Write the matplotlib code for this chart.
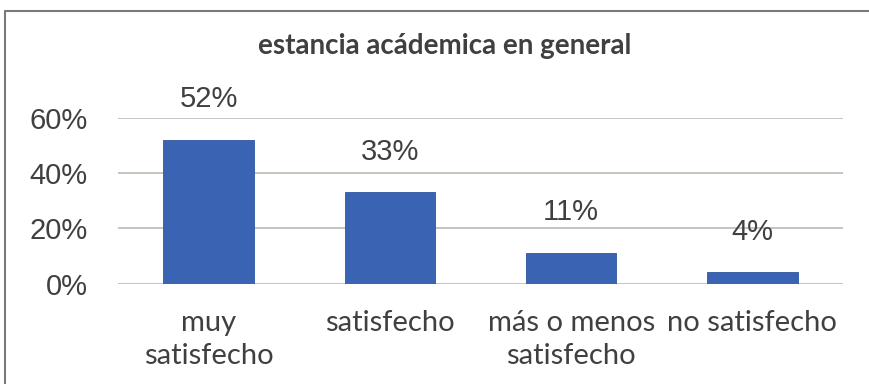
import matplotlib.pyplot as plt
from matplotlib.lines import Line2D
from matplotlib.ticker import FuncFormatter

# satisfaction with the academic stay
categories = ['muy\nsatisfecho', 'satisfecho', 'más o menos\nsatisfecho', 'no satisfecho']
values = [0.52, 0.33, 0.11, 0.04]
labels = ['52%', '33%', '11%', '4%']
yticks = [0, 0.2, 0.4, 0.6]

text_color = '#404040'
bar_color = '#3B63B3'
grid_color = '#C9C3BD'

fig = plt.figure(figsize=(8.69, 3.84), dpi=100)
ax = fig.add_axes([118 / 869, 0.2617, 725 / 869, 0.4310])

x = range(len(categories))
ax.bar(x, values, width=0.5, color=bar_color, edgecolor='#2F55A0', linewidth=0.6, zorder=3)

for xi, v, lab in zip(x, values, labels):
    ax.annotate(lab, (xi, v), xytext=(0, 29.5), textcoords='offset points',
                ha='center', va='center', fontsize=21, color=text_color,
                family='Liberation Sans', annotation_clip=False)

ax.set_xlim(-0.5, len(categories) - 0.5)
ax.set_ylim(0, 0.6)
ax.set_yticks(yticks)
ax.yaxis.set_major_formatter(FuncFormatter(lambda v, _: f'{v:.0%}'))
ax.grid(axis='y', color=grid_color, linewidth=1.4, zorder=0)
for s in ax.spines.values():
    s.set_visible(False)

ax.set_xticks(list(x))
ax.set_xticklabels(categories, fontsize=21, family='Lato', color=text_color, linespacing=1.35)
ax.tick_params(axis='x', length=0, pad=19)
ax.tick_params(axis='y', length=0, pad=22, labelsize=21, labelcolor=text_color)
for t in ax.get_yticklabels():
    t.set_family('Liberation Sans')

fig.text(445 / 869, 1 - 46 / 384, 'estancia acádemica en general', ha='center', va='center',
         fontsize=20, fontweight='bold', family='Lato', color=text_color)

# chart frame, left and top edges
frame_y = 1 - 11 / 384
frame_x = 5 / 869
fig.add_artist(Line2D([frame_x, frame_x, 1], [0, frame_y, frame_y], transform=fig.transFigure,
                      color='#7A7A7A', linewidth=1.5))

fig.savefig('out.png', dpi=100, facecolor='white')
